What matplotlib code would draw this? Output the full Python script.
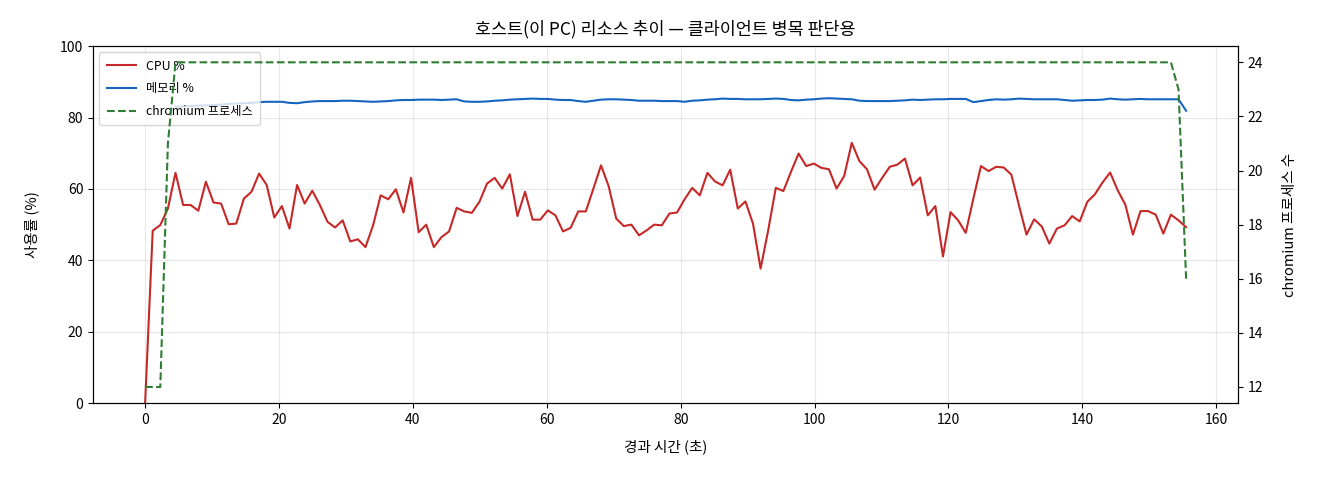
import numpy as np
import matplotlib
matplotlib.use("Agg")
import matplotlib.pyplot as plt

plt.rcParams['font.family'] = ['Noto Sans CJK KR', 'DejaVu Sans']
plt.rcParams['axes.unicode_minus'] = False

SAMPLE_INTERVAL = 1.135  # seconds between samples

cpu = [
    0, 48.3, 49.9, 54.5, 64.5, 55.5, 55.5, 53.9, 62.0, 56.2,
    55.9, 50.1, 50.3, 57.3, 59.2, 64.3, 61.1, 52.0, 55.2, 48.9,
    61.1, 55.9, 59.5, 55.5, 50.8, 49.2, 51.2, 45.3, 45.9, 43.7,
    49.8, 58.2, 57.1, 59.9, 53.4, 63.1, 47.9, 50.0, 43.7, 46.5,
    48.1, 54.7, 53.7, 53.3, 56.4, 61.5, 63.1, 60.1, 64.1, 52.4,
    59.2, 51.4, 51.4, 54.0, 52.6, 48.1, 49.1, 53.7, 53.7, 60.1,
    66.6, 60.8, 51.7, 49.6, 50.0, 47.0, 48.4, 50.0, 49.8, 53.1,
    53.4, 57.1, 60.3, 58.2, 64.5, 62.1, 61.0, 65.4, 54.5, 56.5,
    50.3, 37.7, 48.4, 60.3, 59.4, 64.8, 69.9, 66.4, 67.1, 65.9,
    65.5, 60.1, 63.6, 72.9, 67.8, 65.5, 59.8, 63.1, 66.2, 66.8,
    68.5, 61.0, 63.2, 52.6, 55.2, 41.1, 53.5, 51.2, 47.7, 57.3,
    66.4, 65.0, 66.2, 66.0, 64.0, 55.4, 47.2, 51.5, 49.5, 44.7,
    48.9, 49.8, 52.4, 50.9, 56.4, 58.5, 61.8, 64.6, 59.6, 55.6,
    47.2, 53.8, 53.8, 52.8, 47.5, 52.8, 51.2, 49.3,
]

mem = [
    np.nan, np.nan, np.nan, np.nan, 83.0, 83.1, 83.2, 83.3, 83.4, 83.5,
    83.6, 83.8, 83.9, 84.0, 84.1, 84.3, 84.4, 84.4, 84.4, 84.1,
    84.0, 84.3, 84.5, 84.6, 84.6, 84.6, 84.7, 84.7, 84.6, 84.5,
    84.4, 84.5, 84.6, 84.8, 84.9, 84.9, 85.0, 85.0, 85.0, 84.9,
    85.0, 85.1, 84.5, 84.4, 84.4, 84.5, 84.7, 84.8, 85.0, 85.1,
    85.2, 85.3, 85.2, 85.2, 85.0, 84.9, 84.9, 84.6, 84.4, 84.7,
    85.0, 85.1, 85.1, 85.0, 84.9, 84.7, 84.7, 84.7, 84.6, 84.6,
    84.6, 84.4, 84.7, 84.8, 85.0, 85.1, 85.3, 85.2, 85.2, 85.1,
    85.1, 85.1, 85.2, 85.3, 85.2, 84.9, 84.8, 85.0, 85.1, 85.3,
    85.4, 85.3, 85.2, 85.1, 84.7, 84.6, 84.6, 84.6, 84.6, 84.7,
    84.8, 85.0, 84.9, 85.0, 85.1, 85.1, 85.2, 85.2, 85.2, 84.3,
    84.6, 84.9, 85.1, 85.0, 85.1, 85.3, 85.2, 85.1, 85.1, 85.1,
    85.1, 84.9, 84.7, 84.8, 84.9, 84.9, 85.0, 85.3, 85.1, 85.0,
    85.1, 85.2, 85.1, 85.1, 85.1, 85.1, 85.1, 81.9,
]

procs = [12, 12, 12, 21] + [24] * 132 + [23, 16]

t = np.arange(len(cpu)) * SAMPLE_INTERVAL

fig = plt.figure(figsize=(13.2, 4.8), dpi=100)
ax1 = fig.add_axes([0.0705, 0.160, 0.8675, 0.744])
ax2 = ax1.twinx()

l1, = ax1.plot(t, cpu, color='#c62828', lw=1.5, label='CPU %')
l2, = ax1.plot(t, mem, color='#1565c0', lw=1.5, label='메모리 %')
l3, = ax2.plot(t, procs, color='#2e7d32', lw=1.5, ls='--', label='chromium 프로세스')

ax1.set_ylim(0, 100)
ax1.grid(True, alpha=0.3)
ax1.set_xlabel('경과 시간 (초)', fontsize=10.5, labelpad=9)
ax1.set_ylabel('사용률 (%)', fontsize=10.5, labelpad=15)
ax2.set_ylabel('chromium 프로세스 수', fontsize=10.5, labelpad=14)
ax1.set_title('호스트(이 PC) 리소스 추이 — 클라이언트 병목 판단용', fontsize=12.5, pad=8)
ax1.tick_params(labelsize=10)
ax2.tick_params(labelsize=10)

ax1.legend(handles=[l1, l2, l3], loc='upper left', fontsize=8.8,
           labelspacing=0.8, borderpad=0.6, handlelength=2.4)

fig.savefig('out.png', dpi=100)
